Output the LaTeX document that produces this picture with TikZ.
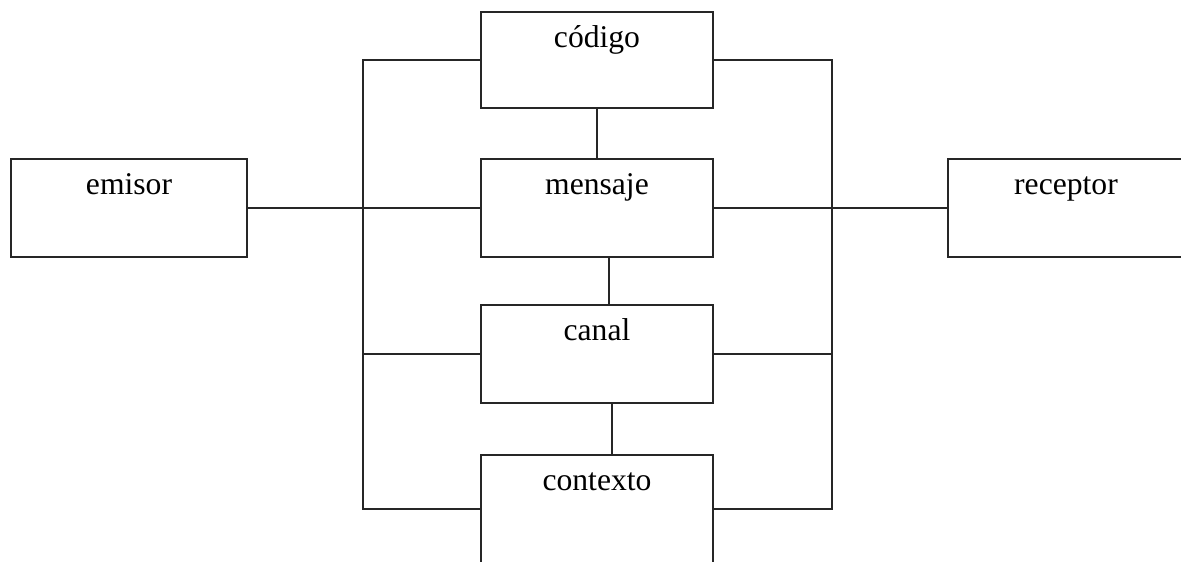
\documentclass[tikz,border=0pt]{standalone}
\usepackage{fontspec}
\setmainfont{Liberation Serif}
\tikzset{
  caja/.style={draw, rectangle, inner sep=0pt, minimum width=4.64cm,
    text height=0.72cm, text depth=#1, font=\fontsize{18}{20}\selectfont},
  caja/.default=1.24cm
}
\begin{document}
\begin{tikzpicture}[x=0.02cm, y=-0.02cm, line width=0.9pt, draw=black!85]
    \useasboundingbox (0,0) rectangle (1181,563);
    \clip (0,0) rectangle (1181,562);
    \node[caja] (emisor) at (129,208) [minimum width=4.72cm] {emisor};
    \node[caja=1.2cm] (codigo) at (597,60) {código};
    \node[caja] (mensaje) at (597,208) {mensaje};
    \node[caja] (canal) at (597,354) {canal};
    \node[caja=1.44cm] (contexto) at (597,509) {contexto};
    \node[caja] (receptor) at (1066,208) [minimum width=4.72cm] {receptor};
    \coordinate (busL) at (363,0);
    \coordinate (busR) at (832,0);
    \draw (emisor) -- (mensaje);
    \draw (mensaje) -- (receptor);
    \draw (codigo) -- (mensaje);
    \draw ([xshift=0.24cm]mensaje.south) -- ([xshift=0.24cm]canal.north);
    \draw ([xshift=0.3cm]canal.south) -- ([xshift=0.3cm]contexto.north);
    \draw (codigo.west) -- (codigo.west -| busL) -- (contexto.west -| busL) -- (contexto.west);
    \draw (codigo.east) -- (codigo.east -| busR) -- (contexto.east -| busR) -- (contexto.east);
    \foreach \b in {canal} {
      \draw (\b.west) -- (\b.west -| busL);
      \draw (\b.east) -- (\b.east -| busR);
    }
\end{tikzpicture}
\end{document}
